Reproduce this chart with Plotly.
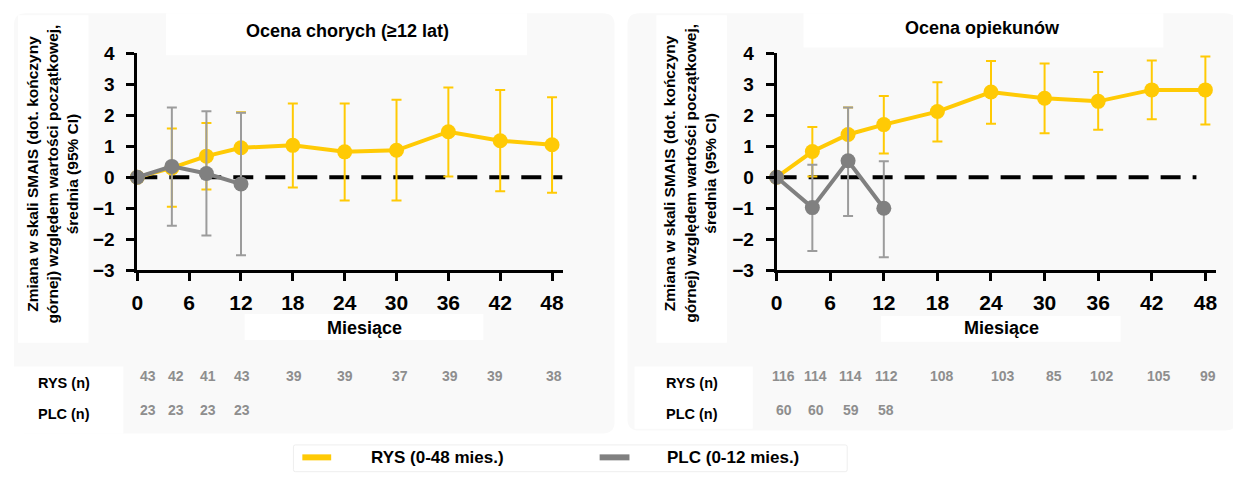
import plotly.graph_objects as go

# page is 1241x484; the browser's default 8px body margin surrounds the figure
OFF = 8
W, H = 1241 - 2 * OFF, 484 - 2 * OFF

# ---------------- data ----------------
months = [0, 4, 8, 12, 18, 24, 30, 36, 42, 48]
months_plc = [0, 4, 8, 12]
x_ticks = [0, 6, 12, 18, 24, 30, 36, 42, 48]
y_ticks = [-3, -2, -1, 0, 1, 2, 3, 4]

# Panel A: Ocena chorych (>=12 lat)
a_rys_mean = [0.0, 0.30, 0.68, 0.95, 1.03, 0.82, 0.87, 1.47, 1.18, 1.05]
a_rys_lo = [0.0, -0.95, -0.40, -0.20, -0.33, -0.75, -0.75, 0.02, -0.45, -0.50]
a_rys_hi = [0.0, 1.57, 1.75, 2.10, 2.38, 2.38, 2.50, 2.90, 2.82, 2.58]
a_plc_mean = [0.0, 0.35, 0.12, -0.22]
a_plc_lo = [0.0, -1.57, -1.88, -2.52]
a_plc_hi = [0.0, 2.25, 2.13, 2.08]
a_rys_n = [43, 42, 41, 43, 39, 39, 37, 39, 39, 38]
a_plc_n = [23, 23, 23, 23]

# Panel B: Ocena opiekunów
b_rys_mean = [0.0, 0.83, 1.38, 1.70, 2.12, 2.75, 2.55, 2.45, 2.82, 2.82]
b_rys_lo = [0.0, 0.02, 0.45, 0.77, 1.15, 1.73, 1.42, 1.53, 1.87, 1.70]
b_rys_hi = [0.0, 1.62, 2.25, 2.62, 3.07, 3.75, 3.67, 3.40, 3.77, 3.90]
b_plc_mean = [0.0, -0.98, 0.53, -1.00]
b_plc_lo = [0.0, -2.38, -1.25, -2.58]
b_plc_hi = [0.0, 0.40, 2.25, 0.52]
b_rys_n = [116, 114, 114, 112, 108, 103, 85, 102, 105, 99]
b_plc_n = [60, 60, 59, 58]

titles = ["Ocena chorych (≥12 lat)", "Ocena opiekunów"]
y_title = ("Zmiana w skali SMAIS (dot. kończyny<br>"
           "górnej) względem wartości początkowej,<br>"
           "średnia (95% CI)")
x_title = "Miesiące"
row_labels = ["RYS (n)", "PLC (n)"]
legend_names = ["RYS (0-48 mies.)", "PLC (0-12 mies.)"]

# ---------------- style ----------------
YEL = "#FFCA05"
GRY = "#808080"
GRY_ERR = "#9C9C9C"
NUM_GRY = "#8E8E8E"
FONT = "Liberation Sans, Arial, sans-serif"


def px(x):
    return (x - OFF) / W


def py(y):
    return 1 - (y - OFF) / H


fig = go.Figure()

panels = [
    dict(xa="x", ya="y", dom=(132, 560), rng=49.25,
         rys=(a_rys_mean, a_rys_lo, a_rys_hi), plc=(a_plc_mean, a_plc_lo, a_plc_hi),
         rys_n=a_rys_n, plc_n=a_plc_n,
         n_x=[1.2, 4.5, 8.2, 12.1, 18.1, 24.0, 30.4, 36.2, 41.4, 48.2],
         title_xy=(343, 22), ylab_x=47, xlab_x=361, row_lab_x=58, dash_end=49.2),
    dict(xa="x2", ya="y2", dom=(775, 1217), rng=49.2,
         rys=(b_rys_mean, b_rys_lo, b_rys_hi), plc=(b_plc_mean, b_plc_lo, b_plc_hi),
         rys_n=b_rys_n, plc_n=b_plc_n,
         n_x=[0.8, 4.4, 8.3, 12.3, 18.5, 25.3, 31.0, 36.4, 42.8, 48.3],
         title_xy=(982, 18), ylab_x=688, xlab_x=1001, row_lab_x=690, dash_end=47.0),
]

shapes = []
annotations = []


def rounded(x0, y0, x1, y1, r, fill, line=None):
    path = (f"M{px(x0 + r)},{py(y0)} L{px(x1 - r)},{py(y0)} Q{px(x1)},{py(y0)} {px(x1)},{py(y0 + r)} "
            f"L{px(x1)},{py(y1 - r)} Q{px(x1)},{py(y1)} {px(x1 - r)},{py(y1)} "
            f"L{px(x0 + r)},{py(y1)} Q{px(x0)},{py(y1)} {px(x0)},{py(y1 - r)} "
            f"L{px(x0)},{py(y0 + r)} Q{px(x0)},{py(y0)} {px(x0 + r)},{py(y0)} Z")
    return dict(type="path", xref="paper", yref="paper", path=path, fillcolor=fill,
                line=dict(width=1 if line else 0, color=line or "rgba(0,0,0,0)"), layer="below")


def rect(x0, y0, x1, y1, fill="white"):
    return dict(type="rect", xref="paper", yref="paper", x0=px(x0), x1=px(x1), y0=py(y1), y1=py(y0),
                fillcolor=fill, line=dict(width=0), layer="below")


shapes += [
    rounded(8, 3, 612, 443, 12, "#F9F9F9"),
    rounded(625, 3, 1238, 440, 12, "#F9F9F9"),
    rect(161, 3, 524, 47), rect(12, 5, 83, 348), rect(240, 318, 480, 345), rect(8, 373, 118, 443),
    rect(802, 3, 1164, 39), rect(654, 5, 725, 348), rect(880, 320, 1121, 347), rect(632, 373, 751, 438),
    rounded(289, 455, 846, 483, 2, "white", "#EEEEEE"),
]

axis_common = dict(showline=True, linewidth=3, linecolor="black", ticks="outside", ticklen=8,
                   tickwidth=3, tickcolor="black", showgrid=False, zeroline=False, mirror=False)

layout_axes = {}
for i, p in enumerate(panels):
    xa_name = "xaxis" if i == 0 else "xaxis2"
    ya_name = "yaxis" if i == 0 else "yaxis2"
    layout_axes[xa_name] = dict(axis_common, domain=[px(p["dom"][0]), px(p["dom"][1])],
                                range=[0, p["rng"]], tickvals=x_ticks, anchor=p["ya"],
                                ticklabelstandoff=4,
                                tickfont=dict(family=FONT, size=21, color="black", weight="bold"))
    layout_axes[ya_name] = dict(axis_common, domain=[py(272), py(45)], range=[-3, 4],
                                tickvals=y_ticks, anchor=p["xa"], ticklabelstandoff=8,
                                tickfont=dict(family=FONT, size=19, color="black", weight="bold"))

    fig.add_trace(go.Scatter(x=[0, p["dash_end"]], y=[0, 0], xaxis=p["xa"], yaxis=p["ya"],
                             mode="lines", line=dict(color="black", width=4, dash="20px,12px"),
                             showlegend=False, hoverinfo="skip", cliponaxis=False))
    m, lo, hi = p["rys"]
    fig.add_trace(go.Scatter(
        x=months, y=m, xaxis=p["xa"], yaxis=p["ya"], mode="lines+markers",
        name=legend_names[0], showlegend=False, cliponaxis=False,
        line=dict(color=YEL, width=4), marker=dict(color=YEL, size=15),
        error_y=dict(type="data", symmetric=False,
                     array=[h - v for h, v in zip(hi, m)],
                     arrayminus=[v - l for v, l in zip(m, lo)],
                     color=YEL, thickness=2, width=5)))
    m, lo, hi = p["plc"]
    fig.add_trace(go.Scatter(
        x=months_plc, y=m, xaxis=p["xa"], yaxis=p["ya"], mode="lines+markers",
        name=legend_names[1], showlegend=False, cliponaxis=False,
        line=dict(color=GRY, width=4), marker=dict(color=GRY, size=15),
        error_y=dict(type="data", symmetric=False,
                     array=[h - v for h, v in zip(hi, m)],
                     arrayminus=[v - l for v, l in zip(m, lo)],
                     color=GRY_ERR, thickness=2, width=5)))

    annotations.append(dict(text=titles[i], x=px(p["title_xy"][0]), y=py(p["title_xy"][1]),
                            xref="paper", yref="paper", showarrow=False, xanchor="center",
                            yanchor="middle",
                            font=dict(family=FONT, size=18, color="black", weight="bold")))
    annotations.append(dict(text=y_title, x=px(p["ylab_x"]), y=py(171), xref="paper", yref="paper",
                            showarrow=False, textangle=-90, xanchor="center", yanchor="middle",
                            align="center",
                            font=dict(family=FONT, size=15.5, color="black", weight="bold")))
    annotations.append(dict(text=x_title, x=px(p["xlab_x"]), y=py(333), xref="paper", yref="paper",
                            showarrow=False, xanchor="center", yanchor="middle",
                            font=dict(family=FONT, size=18, color="black", weight="bold")))
    for lab, yy in zip(row_labels, [390, 423]):
        annotations.append(dict(text=lab, x=px(p["row_lab_x"]), y=py(yy), xref="paper", yref="paper",
                                showarrow=False, xanchor="center", yanchor="middle",
                                font=dict(family=FONT, size=14.5, color="black", weight="bold")))
    for xv, n in zip(p["n_x"], p["rys_n"]):
        annotations.append(dict(text=str(n), x=xv, y=py(383), xref=p["xa"], yref="paper",
                                showarrow=False, xanchor="center", yanchor="middle",
                                font=dict(family=FONT, size=14, color=NUM_GRY, weight="bold")))
    for xv, n in zip(p["n_x"][:4], p["plc_n"]):
        annotations.append(dict(text=str(n), x=xv, y=py(418), xref=p["xa"], yref="paper",
                                showarrow=False, xanchor="center", yanchor="middle",
                                font=dict(family=FONT, size=14, color=NUM_GRY, weight="bold")))

# legend (drawn to match the reference layout)
for (x0, x1, col, tx, name) in [(298, 327, YEL, 365, legend_names[0]),
                                (597, 627, GRY, 663, legend_names[1])]:
    shapes.append(dict(type="line", xref="paper", yref="paper", x0=px(x0), x1=px(x1),
                       y0=py(468), y1=py(468), line=dict(color=col, width=6)))
    annotations.append(dict(text=name, x=px(tx), y=py(468), xref="paper", yref="paper",
                            showarrow=False, xanchor="left", yanchor="middle",
                            font=dict(family=FONT, size=17, color="black", weight="bold")))

fig.update_layout(
    width=W, height=H, margin=dict(l=0, r=0, t=0, b=0),
    paper_bgcolor="white", plot_bgcolor="rgba(0,0,0,0)",
    showlegend=False, shapes=shapes, annotations=annotations,
    **layout_axes,
)

fig.write_html("out.html", config={"displayModeBar": False})
